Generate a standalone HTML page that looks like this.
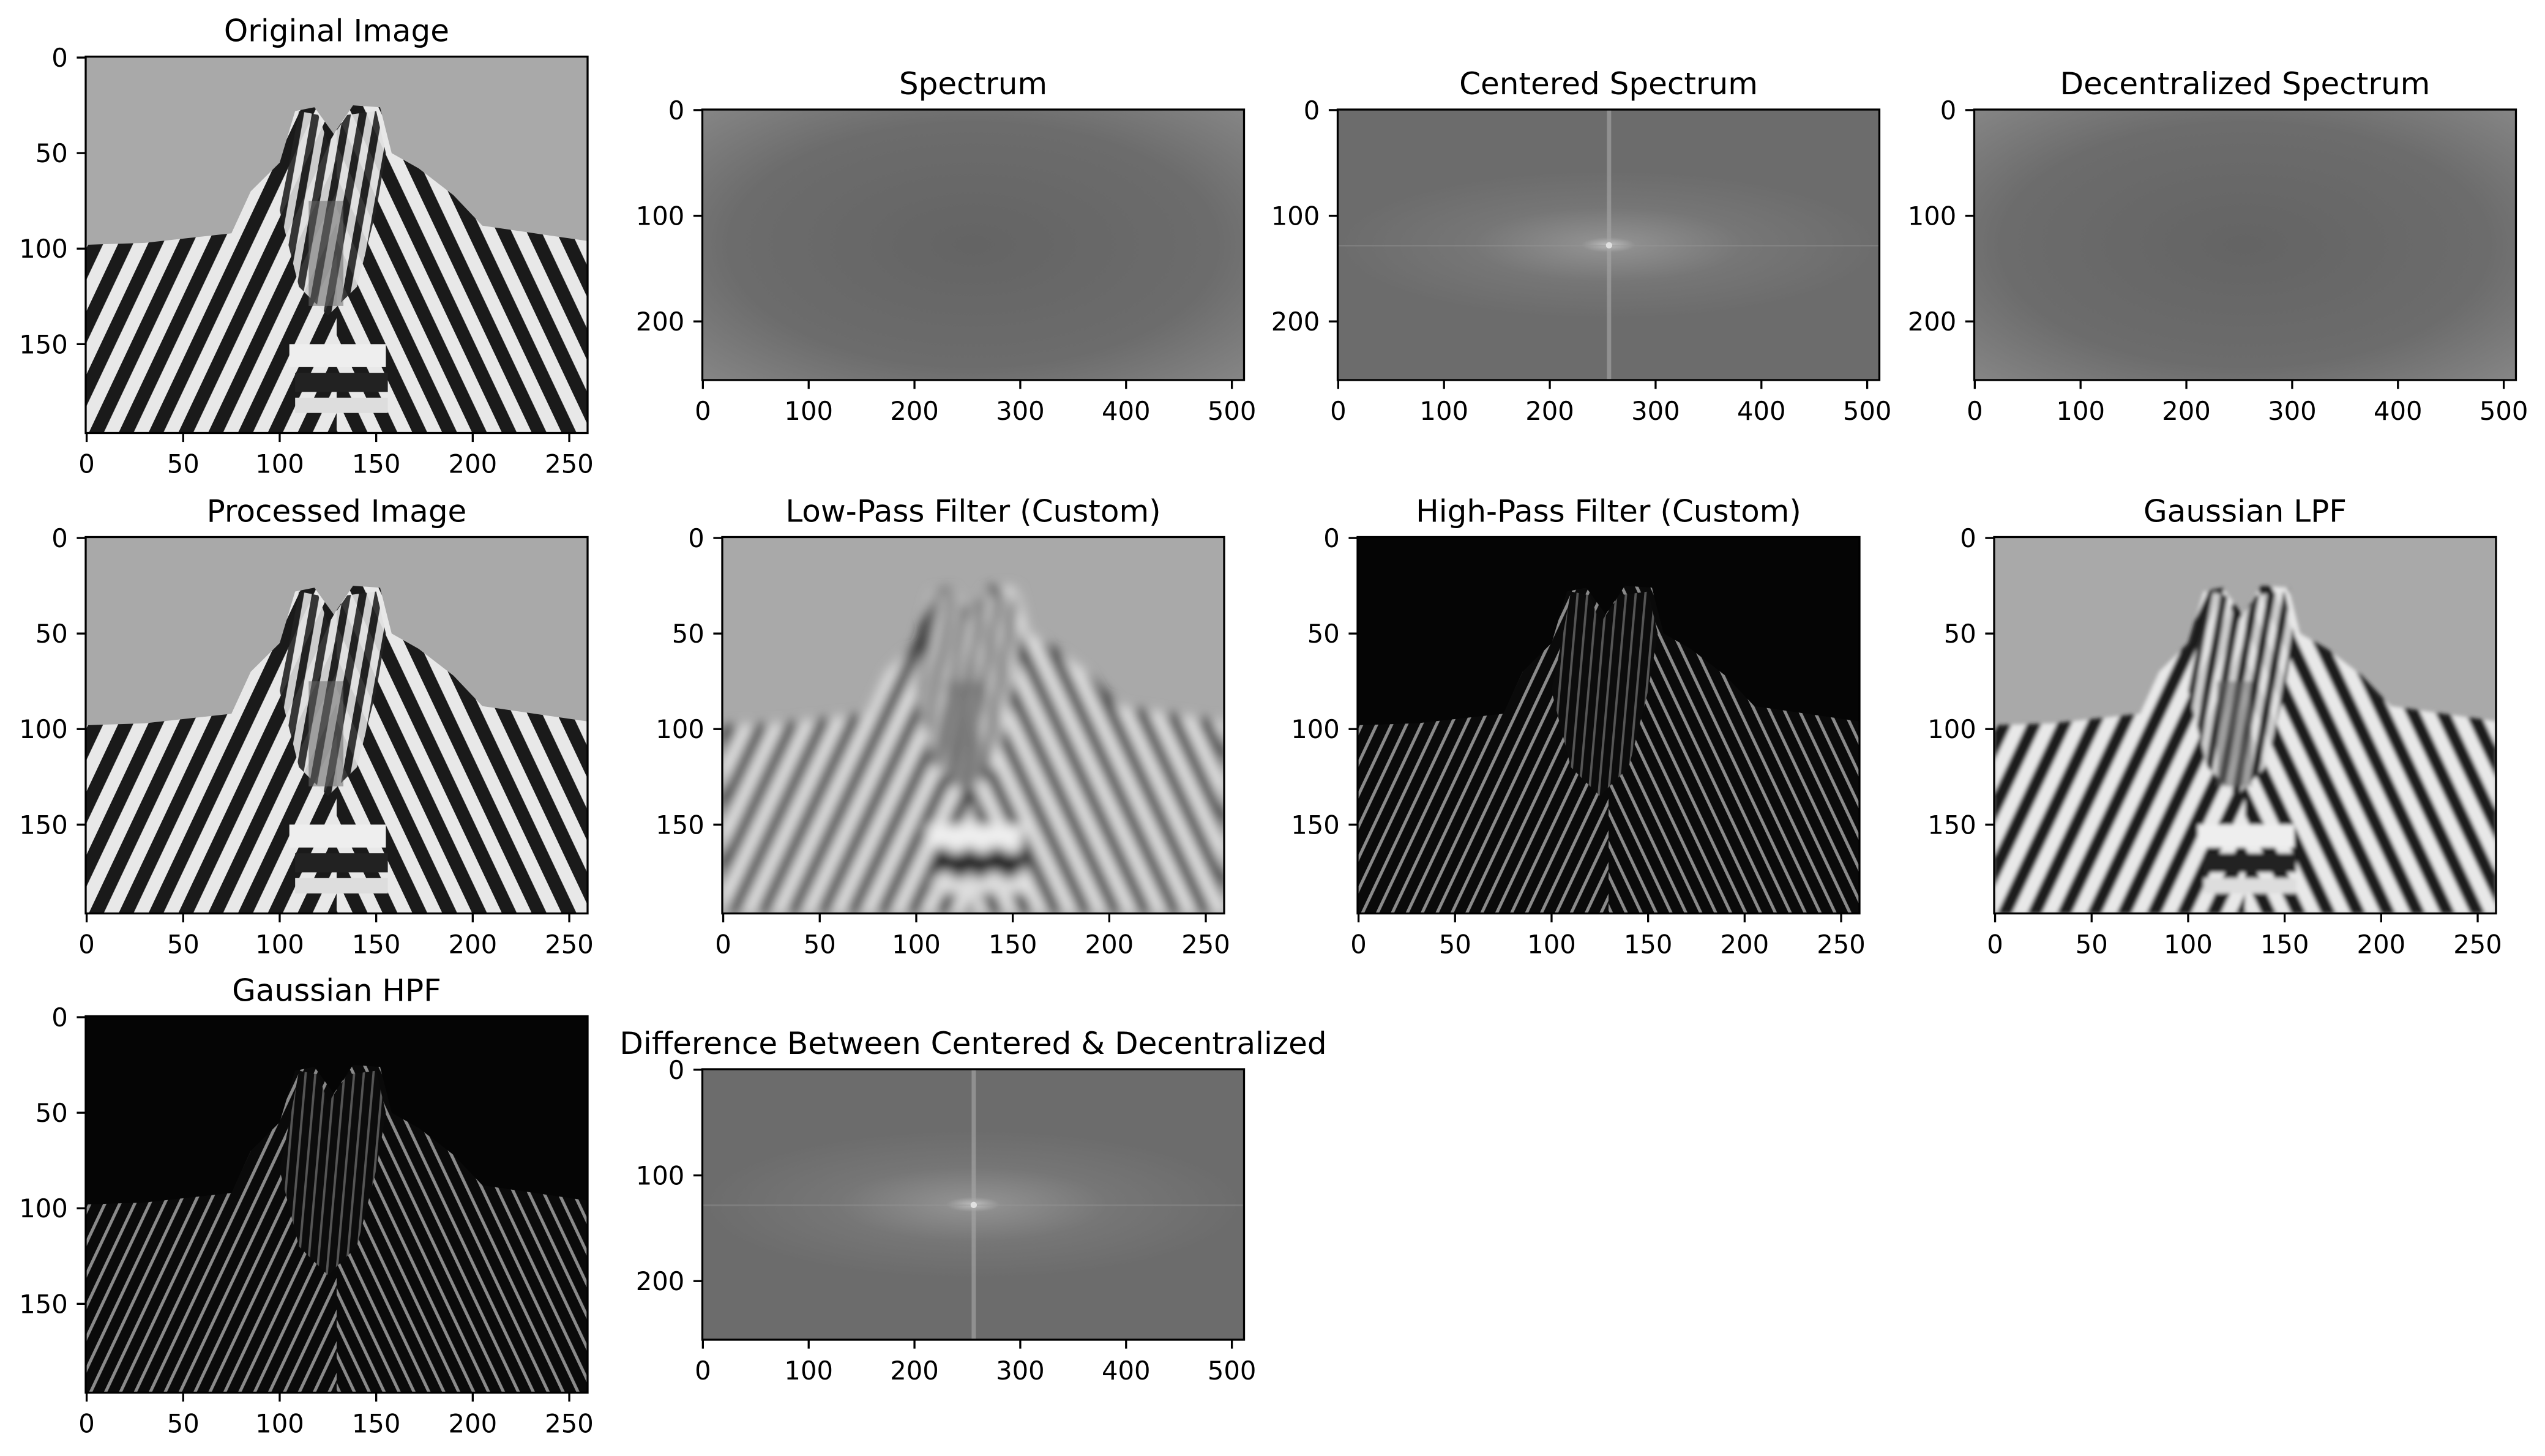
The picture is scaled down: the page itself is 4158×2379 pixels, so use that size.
<!DOCTYPE html>
<html><head><meta charset="utf-8">
<style>
html,body{margin:0;padding:0;background:#fff;}
svg{display:block;}
text{font-family:"DejaVu Sans","Liberation Sans",sans-serif;fill:#000;}
</style></head>
<body>
<svg id="fig" xmlns="http://www.w3.org/2000/svg" width="4158" height="2379" viewBox="0 0 4158 2379">
<defs>
  <pattern id="stripesL" patternUnits="userSpaceOnUse" width="14" height="14" patternTransform="rotate(25)">
    <rect width="14" height="14" fill="#e8e8e8"/><rect width="7" height="14" fill="#1a1a1a"/>
  </pattern>
  <pattern id="stripesR" patternUnits="userSpaceOnUse" width="14" height="14" patternTransform="rotate(-25)">
    <rect width="14" height="14" fill="#e8e8e8"/><rect width="7" height="14" fill="#1a1a1a"/>
  </pattern>
  <pattern id="stripesH" patternUnits="userSpaceOnUse" width="8" height="8" patternTransform="rotate(10)">
    <rect width="8" height="8" fill="#e0e0e0"/><rect width="4" height="8" fill="#222"/>
  </pattern>
  <pattern id="hpL" patternUnits="userSpaceOnUse" width="7" height="7" patternTransform="rotate(25)">
    <rect width="7" height="7" fill="#0a0a0a"/><rect width="1.6" height="7" fill="#8a8a8a"/>
  </pattern>
  <pattern id="hpR" patternUnits="userSpaceOnUse" width="7" height="7" patternTransform="rotate(-25)">
    <rect width="7" height="7" fill="#0a0a0a"/><rect width="1.6" height="7" fill="#8a8a8a"/>
  </pattern>
  <pattern id="hpH" patternUnits="userSpaceOnUse" width="5" height="5" patternTransform="rotate(5)">
    <rect width="5" height="5" fill="#0c0c0c"/><rect width="1.2" height="5" fill="#555"/>
  </pattern>
  <radialGradient id="specCorners" cx="0.5" cy="0.5" r="0.75">
    <stop offset="0" stop-color="#646464"/><stop offset="0.6" stop-color="#6c6c6c"/><stop offset="1" stop-color="#8a8a8a"/>
  </radialGradient>
  <radialGradient id="centerGlow" cx="0.5" cy="0.5" r="0.5" gradientTransform="translate(0.5 0.5) scale(1 0.55) translate(-0.5 -0.5)">
    <stop offset="0" stop-color="#bdbdbd"/><stop offset="0.1" stop-color="#8e8e8e"/><stop offset="0.5" stop-color="#767676"/><stop offset="1" stop-color="#6c6c6c"/>
  </radialGradient>
  <filter id="blur4"><feGaussianBlur stdDeviation="3"/></filter>
  <filter id="blur1"><feGaussianBlur stdDeviation="1"/></filter>
</defs>
<g id="root"></g>
</svg>
<script>
// Subplot data
const titles = ["Original Image","Spectrum","Centered Spectrum","Decentralized Spectrum",
  "Processed Image","Low-Pass Filter (Custom)","High-Pass Filter (Custom)","Gaussian LPF",
  "Gaussian HPF","Difference Between Centered & Decentralized"];
const kinds = ["zebra","spec","centered","spec","zebra","lpf","hpf","glpf","ghpf","centered"];
const rowsIdx = [0,0,0,0,1,1,1,1,2,2];
const colsIdx = [0,1,2,3,0,1,2,3,0,1];
const zebraW = 260, zebraH = 197;
const specW = 512, specH = 256;
const zebraXTicks = [0,50,100,150,200,250];
const zebraYTicks = [0,50,100,150];
const specXTicks = [0,100,200,300,400,500];
const specYTicks = [0,100,200];

const NS = "http://www.w3.org/2000/svg";
const root = document.getElementById("root");
const colCenters = [550,1590,2628,3668];
const rowCenters = [400,1185,1968];
function mk(tag, attrs, parent){const e=document.createElementNS(NS,tag);for(const k in attrs)e.setAttribute(k,attrs[k]);(parent||root).appendChild(e);return e;}

function drawZebraContent(g, mode){
  const hp = (mode==="hpf"||mode==="ghpf");
  mk("rect",{x:-0.5,y:-0.5,width:zebraW,height:zebraH,fill:hp?"#050505":"#a9a9a9"},g);
  const body = "M-0.5,98 L30,97 L75,92 L85,70 L100,55 L108,28 L118,26 L128,40 L138,25 L152,26 L158,50 L172,58 L190,72 L205,88 L259.5,96 L259.5,196.5 L-0.5,196.5 Z";
  const leftC = mk("clipPath",{id:"cl"+g.id},g); mk("rect",{x:-0.5,y:-0.5,width:130,height:zebraH},leftC);
  const rightC = mk("clipPath",{id:"cr"+g.id},g); mk("rect",{x:129.5,y:-0.5,width:131,height:zebraH},rightC);
  const grp = mk("g",{filter:mode==="lpf"?"url(#blur4)":(mode==="glpf"?"url(#blur1)":"")},g);
  mk("path",{d:body,fill:hp?"url(#hpL)":"url(#stripesL)","clip-path":"url(#cl"+g.id+")"},grp);
  mk("path",{d:body,fill:hp?"url(#hpR)":"url(#stripesR)","clip-path":"url(#cr"+g.id+")"},grp);
  mk("path",{d:"M105,55 L110,28 L120,30 L125,45 L135,30 L150,28 L155,50 L150,80 L140,120 L125,135 L110,120 L100,80 Z",fill:hp?"url(#hpH)":"url(#stripesH)",opacity:hp?1:0.9},grp);
  if(!hp){
    mk("rect",{x:115,y:75,width:18,height:55,fill:"#6a6a6a",opacity:0.55},grp);
    mk("rect",{x:105,y:150,width:50,height:12,fill:"#eeeeee"},grp);
    mk("rect",{x:108,y:165,width:48,height:10,fill:"#222"},grp);
    mk("rect",{x:108,y:178,width:48,height:8,fill:"#ddd"},grp);
  }
}
function drawSpecContent(g, mode){
  if(mode==="spec"){
    mk("rect",{x:-0.5,y:-0.5,width:specW,height:specH,fill:"url(#specCorners)"},g);
  } else {
    mk("rect",{x:-0.5,y:-0.5,width:specW,height:specH,fill:"url(#centerGlow)"},g);
    mk("rect",{x:254,y:-0.5,width:4,height:specH,fill:"#a8a8a8",opacity:0.6},g);
    mk("rect",{x:-0.5,y:127.5,width:specW,height:1.5,fill:"#999",opacity:0.4},g);
    mk("circle",{cx:256,cy:128,r:3,fill:"#e0e0e0"},g);
  }
}

for(let i=0;i<titles.length;i++){
  const isSpec = (kinds[i]==="spec"||kinds[i]==="centered");
  const W = isSpec?specW:zebraW, H = isSpec?specH:zebraH;
  const pw = isSpec?885:820, ph = isSpec?442:615;
  const left = colCenters[colsIdx[i]] - pw/2, top = rowCenters[rowsIdx[i]] - ph/2;
  const sy = v => top + (v+0.5)/H*ph;
  const ax = mk("g",{});
  
  
  const img = mk("svg",{x:left,y:top,width:pw,height:ph,viewBox:"-0.5 -0.5 "+W+" "+H,preserveAspectRatio:"none"},ax);
  img.id = "img"+i;
  
  
  const ig = mk("g",{},img); ig.id="g"+i;
  if(isSpec) drawSpecContent(ig,kinds[i]); else drawZebraContent(ig,kinds[i]);
  const frame = mk("rect",{x:left,y:top,width:pw,height:ph,fill:"none",stroke:"#000","stroke-width":3.3},ax);
  
  
  const t = mk("text",{x:left+pw/2,y:top-25,"font-size":50,"text-anchor":"middle"},ax);
  t.textContent = titles[i];
  
  
  const xt = isSpec?specXTicks:zebraXTicks, yt = isSpec?specYTicks:zebraYTicks;
  xt.forEach(v=>{
    const x = left + v/W*pw + pw/W*0.5;
    mk("line",{x1:x,x2:x,y1:top+ph,y2:top+ph+14.6,stroke:"#000","stroke-width":3.3},ax);
    const tl = mk("text",{x:x,y:top+ph+14.6+14.6+36,"font-size":41.7,"text-anchor":"middle"},ax);
    tl.textContent = v;
    
    
  });
  yt.forEach(v=>{
    const y = sy(v);
    mk("line",{x1:left-14.6,x2:left,y1:y,y2:y,stroke:"#000","stroke-width":3.3},ax);
    const tl = mk("text",{x:left-14.6-14.6,y:y+15,"font-size":41.7,"text-anchor":"end"},ax);
    tl.textContent = v;
    
    
  });
}
</script>
</body></html>
